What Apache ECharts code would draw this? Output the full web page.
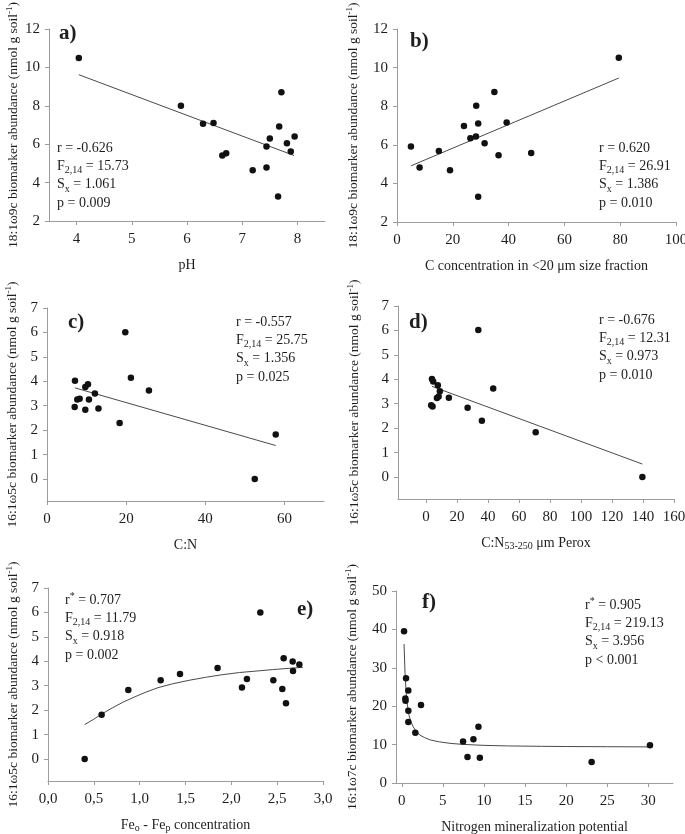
<!DOCTYPE html>
<html><head><meta charset="utf-8">
<script src="https://cdn.jsdelivr.net/npm/echarts@6/dist/echarts.min.js"></script>
<style>html,body{margin:0;padding:0;background:#fff}#c{width:685px;height:834px}</style>
</head><body><div id="c"></div><script>
// ---- data ----
const aX=[4.04,5.89,6.29,6.48,6.64,6.71,7.19,7.44,7.44,7.50,7.65,7.67,7.71,7.81,7.88,7.95];
const aY=[10.49,8.00,7.06,7.11,5.41,5.53,4.64,4.78,5.88,6.30,3.27,6.92,8.71,6.05,5.62,6.40];
const aFitX=[4.04,7.94], aFitY=[9.62,5.41];

const bX=[5.0,8.1,15.0,19.0,24.0,26.3,28.3,28.4,29.1,29.1,31.4,34.9,36.4,39.3,48.1,79.5];
const bY=[5.91,4.82,5.68,4.68,6.98,6.34,6.43,8.02,7.10,3.31,6.08,8.73,5.46,7.16,5.58,10.51];
const bFitX=[5.0,79.5], bFitY=[4.91,9.46];

const cX=[7.07,6.99,7.66,8.25,9.68,9.68,10.35,10.6,12.1,13.0,18.35,19.78,21.2,25.76,52.5,57.8];
const cY=[4.02,2.95,3.25,3.29,2.84,3.77,3.88,3.25,3.50,2.89,2.29,6.01,4.14,3.62,0.0,1.82];
const cFitX=[7.07,57.8], cFitY=[3.73,1.37];

const dX=[3.9,4.7,3.4,4.3,7.7,7.1,8.2,9.0,14.8,26.9,33.8,36.1,43.4,70.8,139.6];
const dY=[4.01,3.91,2.94,2.89,3.76,3.23,3.30,3.51,3.24,2.83,6.02,2.30,3.62,1.83,0.0];
const dFitX=[3.9,139.6], dFitY=[3.71,0.53];

const eX=[0.40,0.585,0.876,1.229,1.44,1.85,2.116,2.17,2.316,2.458,2.556,2.571,2.596,2.669,2.673,2.742];
const eY=[0.0,1.81,2.82,3.22,3.48,3.73,2.93,3.28,6.0,3.22,2.87,4.12,2.28,3.99,3.60,3.87];
const eFitX=[0.40,0.50,0.58,0.70,0.82,0.95,1.07,1.20,1.36,1.55,1.73,1.90,2.09,2.27,2.45,2.62,2.78];
const eFitY=[1.41,1.63,1.83,2.09,2.33,2.55,2.74,2.92,3.08,3.23,3.35,3.45,3.54,3.60,3.66,3.71,3.75];

const fX=[0.28,0.52,0.80,0.44,0.46,0.80,0.80,1.65,2.34,7.46,8.0,8.72,9.33,9.5,23.1,30.2];
const fY=[39.5,27.3,24.1,22.0,21.4,18.8,15.9,13.1,20.3,10.8,6.8,11.4,14.65,6.6,5.45,9.86];
const fFitX=[0.28,0.4,0.52,0.7,0.9,1.1,1.4,1.7,2.2,2.8,3.5,4.6,6,7.5,10,13,17,20,25,30.1];
const fFitY=[36.2,28.5,24.0,20.0,17.5,16.0,14.6,13.6,12.5,11.8,11.2,10.7,10.3,10.05,9.8,9.65,9.55,9.5,9.45,9.4];

// tick labels
const aTicksX=[4,5,6,7,8], abTicksY=[2,4,6,8,10,12];
const bTicksX=[0,20,40,60,80,100];
const cTicksX=[0,20,40,60], cdeTicksY=[0,1,2,3,4,5,6,7];
const dTicksX=[0,20,40,60,80,100,120,140,160];
const eTicksX=[0,0.5,1,1.5,2,2.5,3];
const fTicksX=[0,5,10,15,20,25,30], fTicksY=[0,10,20,30,40,50];

// texts
const yName1='18:1ω9c biomarker abundance (nmol g soil{sup|-1})';
const yName2='16:1ω5c biomarker abundance (nmol g soil{sup|-1})';
const yName3='16:1ω7c biomarker abundance (nmol g soil{sup|-1})';
const xNames=['pH','C concentration in <20 μm size fraction','C:N','C:N{sub|53-250} μm Perox','Fe{sub|o} - Fe{sub|p} concentration','Nitrogen mineralization potential'];
const letters=['a)','b)','c)','d)','e)','f)'];
const stats=[
 ['r = -0.626','F{sub|2,14} = 15.73','S{sub|x} = 1.061','p = 0.009'],
 ['r = 0.620','F{sub|2,14} = 26.91','S{sub|x} = 1.386','p = 0.010'],
 ['r = -0.557','F{sub|2,14} = 25.75','S{sub|x} = 1.356','p = 0.025'],
 ['r = -0.676','F{sub|2,14} = 12.31','S{sub|x} = 0.973','p = 0.010'],
 ['r{sup|*} = 0.707','F{sub|2,14} = 11.79','S{sub|x} = 0.918','p = 0.002'],
 ['r{sup|*} = 0.905','F{sub|2,14} = 219.13','S{sub|x} = 3.956','p < 0.001']
];

// ---- layout / style ----
const FONT='Liberation Serif', TXT='#1e1e1e', AX='#9c9c9c';
const grids=[
 {left:49,top:29,width:276,height:192},
 {left:397,top:29,width:279,height:193},
 {left:47,top:308,width:277,height:193},
 {left:398,top:306,width:276,height:193},
 {left:48,top:588,width:275,height:193},
 {left:396,top:591,width:277,height:192}
].map(g=>Object.assign({outerBoundsMode:'none',containLabel:false},g));

const richSub={sub:{fontFamily:FONT,fontSize:10,color:TXT,verticalAlign:'bottom',lineHeight:8},
               sup:{fontFamily:FONT,fontSize:9,color:TXT,verticalAlign:'top',lineHeight:8}};

function xAx(i,min,max,ticks,fmt){
  return {type:'value',gridIndex:i,min:min,max:max,name:xNames[i],nameLocation:'middle',nameGap:36,
    nameTextStyle:{fontFamily:FONT,fontSize:14,color:TXT,lineHeight:16,rich:richSub},
    axisLine:{show:true,onZero:false,lineStyle:{color:AX,width:1}},
    axisTick:{show:true,length:4,customValues:ticks,lineStyle:{color:AX}},
    axisLabel:{fontFamily:FONT,fontSize:15,color:TXT,margin:11,customValues:ticks,formatter:fmt},
    splitLine:{show:false}};
}
function yAx(i,min,max,ticks,name,gap){
  return {type:'value',gridIndex:i,min:min,max:max,name:name,nameLocation:'middle',nameGap:gap,nameRotate:90,
    nameTextStyle:{fontFamily:FONT,fontSize:13.5,color:TXT,lineHeight:16,rich:richSub},
    axisLine:{show:true,onZero:false,lineStyle:{color:AX,width:1}},
    axisTick:{show:true,length:4,customValues:ticks,lineStyle:{color:AX}},
    axisLabel:{fontFamily:FONT,fontSize:15,color:TXT,margin:9,customValues:ticks},
    splitLine:{show:false}};
}
const pairs=(xs,ys)=>xs.map((x,k)=>[x,ys[k]]);
const eFmt=v=>v.toFixed(1).replace('.',',');

const xAxes=[
 xAx(0,3.5,8.5,aTicksX),
 xAx(1,0,100,bTicksX),
 xAx(2,0,70,cTicksX),
 xAx(3,-18,160,dTicksX),
 xAx(4,0,3,eTicksX,eFmt),
 xAx(5,-0.7,33,fTicksX)
];
const yAxes=[
 yAx(0,2,12,abTicksY,yName1,27),
 yAx(1,2,12,abTicksY,yName1,36),
 yAx(2,-0.9,7,cdeTicksY,yName2,27),
 yAx(3,-0.9,7,cdeTicksY,yName2,36),
 yAx(4,-0.9,7,cdeTicksY,yName2,27),
 yAx(5,0,50,fTicksY,yName3,36)
];
const sets=[[aX,aY,aFitX,aFitY],[bX,bY,bFitX,bFitY],[cX,cY,cFitX,cFitY],
            [dX,dY,dFitX,dFitY],[eX,eY,eFitX,eFitY],[fX,fY,fFitX,fFitY]];
const series=[];
sets.forEach((s,i)=>{
  series.push({type:'line',xAxisIndex:i,yAxisIndex:i,data:pairs(s[2],s[3]),symbol:'none',smooth:false,
    lineStyle:{color:'#4a4a4a',width:1},silent:true,z:2});
  series.push({type:'scatter',xAxisIndex:i,yAxisIndex:i,data:pairs(s[0],s[1]),symbolSize:6.5,
    itemStyle:{color:'#111',opacity:1},silent:true,z:3});
});

const letterPos=[[59,23],[410,31],[68,312],[409,312],[297,599],[422,592]];
const statPos=[[57,139],[599,139],[236,313],[599,311],[65,591],[585,596]];
const graphic=[];
letters.forEach((t,i)=>graphic.push({type:'text',left:letterPos[i][0],top:letterPos[i][1],
  style:{text:t,fontFamily:FONT,fontWeight:'bold',fontSize:21,fill:TXT}}));
stats.forEach((lines,i)=>graphic.push({type:'text',left:statPos[i][0],top:statPos[i][1],
  style:{text:lines.join('\n'),fontFamily:FONT,fontSize:14,fill:TXT,lineHeight:18.3,
    rich:{sub:{fontFamily:FONT,fontSize:10,fill:TXT,verticalAlign:'bottom',lineHeight:8},
          sup:{fontFamily:FONT,fontSize:10,fill:TXT,verticalAlign:'top',lineHeight:8}}}}));

const chart=echarts.init(document.getElementById('c'),null,{renderer:'canvas'});
chart.setOption({animation:false,backgroundColor:'#fff',grid:grids,xAxis:xAxes,yAxis:yAxes,series:series,graphic:graphic});
</script></body></html>
